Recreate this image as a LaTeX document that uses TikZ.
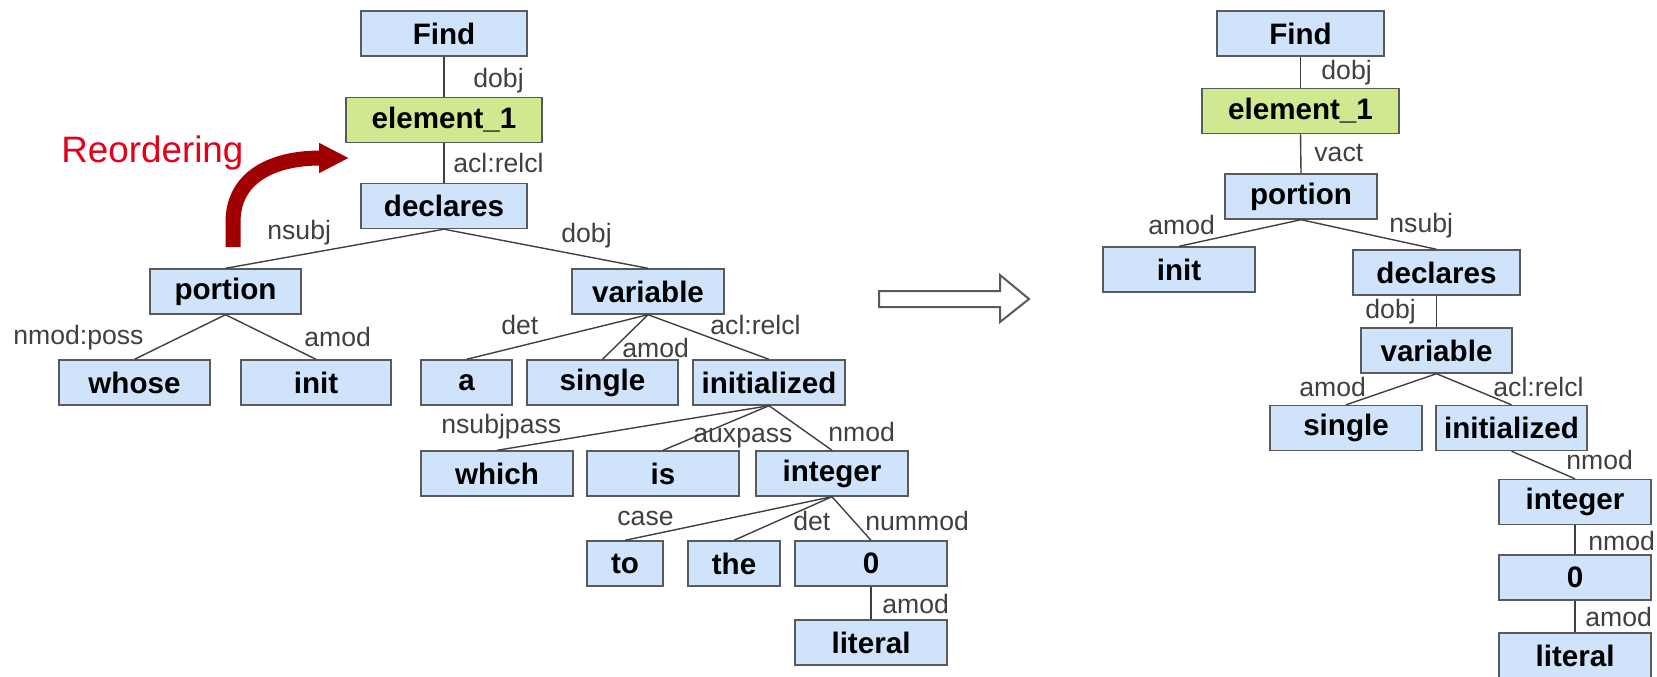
\documentclass[tikz,border=0pt]{standalone}
\usepackage{fontspec}
\setmainfont{Liberation Sans}
\usetikzlibrary{arrows.meta}
\definecolor{boxblue}{RGB}{207,228,250}
\definecolor{boxgreen}{RGB}{208,232,143}
\definecolor{boxline}{RGB}{90,90,90}
\definecolor{lblgray}{RGB}{64,64,64}
\definecolor{reordred}{RGB}{226,0,26}
\definecolor{arrowred}{RGB}{160,0,0}

\begin{document}
\begin{tikzpicture}[x=0.5pt, y=-0.5pt,
    box/.style = {draw=boxline, fill=boxblue, line width=0.7pt, minimum width=76pt,
      minimum height=22.5pt, inner sep=0pt, font=\bfseries\fontsize{14.8}{17}\selectfont},
    lbl/.style = {anchor=west, inner sep=0pt, text=lblgray, font=\fontsize{13.3}{15}\selectfont},
    edge/.style = {draw=lblgray, line width=0.7pt}]
  \useasboundingbox (0,0) rectangle (1657,676);
  % left tree
  \node[box, minimum width=83pt] (find) at (444,33.5) {Find};
  \node[box, fill=boxgreen, minimum width=98pt] (elem) at (444,120) {element\_1};
  \node[box, minimum width=83pt] (decl) at (444,206) {declares};
  \node[box, minimum width=75.5pt] (port) at (225.5,291.5) {portion};
  \node[box] (var) at (648,291.5) {variable};
  \node[box, minimum width=75.5pt] (whose) at (134.5,382.5) {whose};
  \node[box, minimum width=75pt] (init) at (316,382.5) {init};
  \node[box, minimum width=45.5pt] (a) at (466.5,382.5) {a};
  \node[box, minimum width=75.5pt] (single) at (602.5,382.5) {single};
  \node[box] (initd) at (769,382.5) {initialized};
  \node[box] (which) at (497,473.5) {which};
  \node[box] (is) at (663,473.5) {is};
  \node[box] (integer) at (832,473.5) {integer};
  \node[box, minimum width=38pt] (to) at (625,563.5) {to};
  \node[box, minimum width=46pt] (the) at (734,563.5) {the};
  \node[box] (zero) at (871,563.5) {0};
  \node[box] (literal) at (871,642.5) {literal};
  %
  \draw[edge] (find.south) -- (elem.north);
  \draw[edge] (elem.south) -- (decl.north);
  \draw[edge] (decl.south) -- (port.north);
  \draw[edge] (decl.south) -- (var.north);
  \draw[edge] (port.south) -- (whose.north);
  \draw[edge] (port.south) -- (init.north);
  \draw[edge] (var.south) -- (a.north);
  \draw[edge] (var.south) -- (single.north);
  \draw[edge] (var.south) -- (initd.north);
  \draw[edge] (initd.south) -- (which.north);
  \draw[edge] (initd.south) -- (is.north);
  \draw[edge] (initd.south) -- (integer.north);
  \draw[edge] (integer.south) -- (to.north);
  \draw[edge] (integer.south) -- (the.north);
  \draw[edge] (integer.south) -- (zero.north);
  \draw[edge] (zero.south) -- (literal.north);
  %
  \node[lbl] (l1) at (473,81) {dobj};
  \node[lbl] (l2) at (453,163) {acl:relcl};
  \node[lbl] (l3) at (267,233) {nsubj};
  \node[lbl] (l4) at (561,236) {dobj};
  \node[lbl] (l5) at (13,338) {nmod:poss};
  \node[lbl] (l6) at (304,337) {amod};
  \node[lbl] (l7) at (501,325) {det};
  \node[lbl] (l8) at (622,348) {amod};
  \node[lbl] (l9) at (710,325) {acl:relcl};
  \node[lbl] (l10) at (441,427) {nsubjpass};
  \node[lbl] (l11) at (693,438) {auxpass};
  \node[lbl] (l12) at (828,432) {nmod};
  \node[lbl] (l13) at (617,518) {case};
  \node[lbl] (l14) at (793,521) {det};
  \node[lbl] (l15) at (865,521) {nummod};
  \node[lbl] (l16) at (882,604) {amod};
  %
  \node[anchor=west, inner sep=0pt, text=reordred, font=\fontsize{18.4}{21}\selectfont]
    (reord) at (61,153) {Reordering};
  \coordinate (rs) at (233,247);
  \coordinate (re) at (349,158);
  \draw[arrowred, line width=7.5pt, -{Triangle[length=15pt, width=14pt]}]
    (rs) -- (233,222) .. controls (233,180) and (268,158) .. (re);
  % big arrow
  \draw[boxline, line width=1pt, fill=white] (879,291) -- (1000,291) -- (1000,275) -- (1029,299)
    -- (1000,322) -- (1000,307) -- (879,307) -- cycle;
  % right tree
  \node[box, minimum width=83.5pt] (findr) at (1300.5,33.5) {Find};
  \node[box, fill=boxgreen, minimum width=98.5pt] (elemr) at (1300.5,111) {element\_1};
  \node[box] (portr) at (1301,196.5) {portion};
  \node[box] (initr) at (1179,269.5) {init};
  \node[box, minimum width=83.5pt] (declr) at (1436.5,272.5) {declares};
  \node[box, minimum width=75.5pt] (varr) at (1436.5,350.5) {variable};
  \node[box] (singler) at (1346,428) {single};
  \node[box, minimum width=75.5pt] (initdr) at (1511.5,428) {initialized};
  \node[box] (integerr) at (1575,502) {integer};
  \node[box] (zeror) at (1575,577.5) {0};
  \node[box] (literalr) at (1575,655.5) {literal};
  %
  \draw[edge] (findr.south) -- (elemr.north);
  \draw[edge] (elemr.south) -- (portr.north);
  \draw[edge] (portr.south) -- (initr.north);
  \draw[edge] (portr.south) -- (declr.north);
  \draw[edge] (declr.south) -- (varr.north);
  \draw[edge] (varr.south) -- (singler.north);
  \draw[edge] (varr.south) -- (initdr.north);
  \draw[edge] (initdr.south) -- (integerr.north);
  \draw[edge] (integerr.south) -- (zeror.north);
  \draw[edge] (zeror.south) -- (literalr.north);
  %
  \node[lbl] (r1) at (1321,73) {dobj};
  \node[lbl] (r2) at (1314,153) {vact};
  \node[lbl] (r3) at (1148,225) {amod};
  \node[lbl] (r4) at (1389,226) {nsubj};
  \node[lbl] (r5) at (1365,312) {dobj};
  \node[lbl] (r6) at (1299,387) {amod};
  \node[lbl] (r7) at (1493,387) {acl:relcl};
  \node[lbl] (r8) at (1566,460) {nmod};
  \node[lbl] (r9) at (1588,541) {nmod};
  \node[lbl] (r10) at (1585,617) {amod};
\end{tikzpicture}
\end{document}
